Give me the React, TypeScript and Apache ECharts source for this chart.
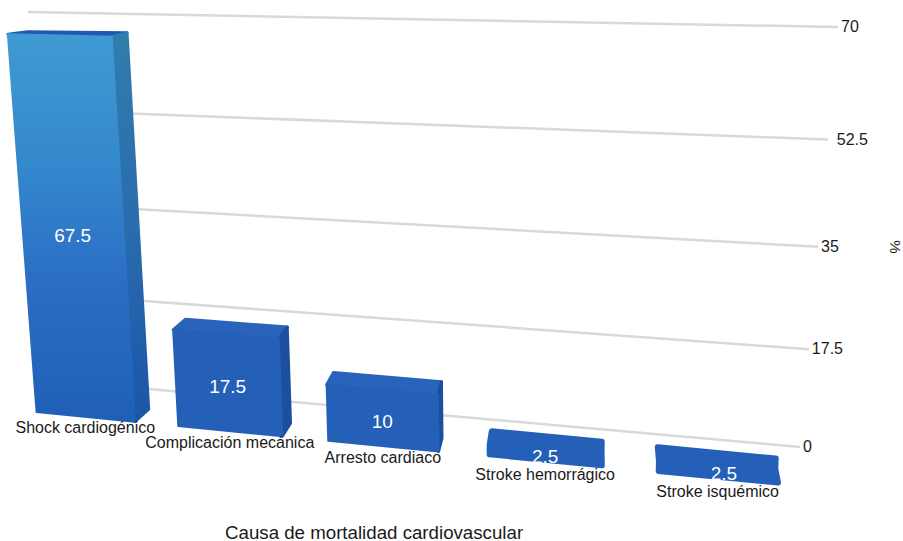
import React, { useEffect, useRef } from "react";
import * as echarts from "echarts";

const categories = ["Shock cardiogénico", "Complicación mecánica", "Arresto cardiaco", "Stroke hemorrágico", "Stroke isquémico"];
const values = [67.5, 17.5, 10, 2.5, 2.5];
const valueLabels = ["67.5", "17.5", "10", "2.5", "2.5"];
const yTicks = [0, 17.5, 35, 52.5, 70];
const yTickLabels = ["0", "17.5", "35", "52.5", "70"];
const xTitle = "Causa de mortalidad cardiovascular";
const yTitle = "%";

const W = 903;
const H = 541;
const FONT = '"Liberation Sans", Arial, sans-serif';

type P = [number, number];
function quad(p0: P, p1: P, p2: P, p3: P) {
  const dx1 = p1[0] - p2[0], dx2 = p3[0] - p2[0], sx = p0[0] - p1[0] + p2[0] - p3[0];
  const dy1 = p1[1] - p2[1], dy2 = p3[1] - p2[1], sy = p0[1] - p1[1] + p2[1] - p3[1];
  const den = dx1 * dy2 - dx2 * dy1;
  const g = (sx * dy2 - dx2 * sy) / den;
  const h = (dx1 * sy - sx * dy1) / den;
  const a = p1[0] - p0[0] + g * p1[0], b = p3[0] - p0[0] + h * p3[0], c = p0[0];
  const d = p1[1] - p0[1] + g * p1[1], e = p3[1] - p0[1] + h * p3[1], f = p0[1];
  return (q: number[]): P => {
    const s = q[0] / W, t = 1 - q[1] / H;
    const w = g * s + h * t + 1;
    return [(a * s + b * t + c) / w, (d * s + e * t + f) / w];
  };
}

// perspective planes: bottom-left, bottom-right, top-right, top-left
const wall = quad([58, 381], [800, 447], [838, 27], [28, 12]);
const front = quad([16, 410], [808, 488], [830, 36], [-15, 19]);
const back = quad([35, 398], [805, 474], [828, 24], [6, 17]);

const renderGrid = (params: any, api: any) => {
  const v = api.value(1);
  const a = wall(api.coord([0, v]));
  const b = wall(api.coord([5, v]));
  const gap = v === 52.5 ? 9 : 3;
  return {
    type: "group",
    children: [
      { type: "line", shape: { x1: a[0], y1: a[1], x2: b[0], y2: b[1] }, style: { stroke: "#d9d9d9", lineWidth: 2.5 } },
      {
        type: "text",
        style: { text: yTickLabels[params.dataIndex], x: b[0] + gap, y: b[1] - 0.5, fill: "#1a1a1a", font: `16px ${FONT}`, align: "left", verticalAlign: "middle" },
      },
    ],
  };
};

const renderBar = (params: any, api: any) => {
  const i = api.value(0);
  const v = api.value(1);
  const low = v < 5;
  const ins = low ? 0.015 : 0;
  const vIn = low ? 0.4 : 0;
  const uL = i + 0.15 + ins, uR = i + 0.85 - ins;
  const fBL = front(api.coord([uL, vIn])), fBR = front(api.coord([uR, vIn]));
  const fTL = front(api.coord([uL, v - vIn])), fTR = front(api.coord([uR, v - vIn]));
  const bBR = back(api.coord([uR, vIn]));
  const bTL = back(api.coord([uL, v - vIn])), bTR = back(api.coord([uR, v - vIn]));
  const tall = v > 30;
  const grad = (stops: string[]) => ({
    type: "linear", x: 0, y: 0, x2: 0, y2: 1,
    colorStops: stops.map((color, k) => ({ offset: k / (stops.length - 1), color })),
  });
  const frontFill = tall ? grad(["#3f9ad3", "#3488cd", "#2a6cc4", "#1f5fb8"]) : "#2460b8";
  const sideFill = tall ? grad(["#2f7dac", "#2a6cae", "#1c55a8"]) : "#1d4f9f";
  const topFill = tall ? "#2058b4" : "#2a63bb";
  const mk = (pts: P[], fill: any, lw: number) => ({
    type: "polygon",
    shape: { points: pts },
    style: { fill, stroke: fill, lineWidth: lw, lineJoin: "round" },
  });
  const faces = low
    ? [mk([bTL, bTR, bBR, fBR, fBL, fTL], "#2460b8", 6)]
    : [
        mk([fTL, fTR, bTR, bTL], topFill, 3),
        mk([fTR, fBR, bBR, bTR], sideFill, 3),
        mk([fTL, fTR, fBR, fBL], frontFill, 2),
      ];
  const mid = front(api.coord([i + 0.5, v / 2]));
  const base = front(api.coord([i + 0.5, 0]));
  const labelDx = params.dataIndex === 4 ? 6 : 0;
  const labelDy = low ? 2 : 4;
  const catDy = low ? 12.5 : 11;
  return {
    type: "group",
    children: [
      ...faces,
      {
        type: "text",
        style: { text: valueLabels[params.dataIndex], x: mid[0] + labelDx, y: mid[1] + labelDy, fill: "#ffffff", font: `19px ${FONT}`, align: "center", verticalAlign: "middle" },
      },
      {
        type: "text",
        style: { text: categories[params.dataIndex], x: base[0], y: base[1] + catDy, fill: "#1a1a1a", font: `16px ${FONT}`, align: "center", verticalAlign: "middle" },
      },
    ],
  };
};

export default function App() {
  const ref = useRef<HTMLDivElement>(null);
  useEffect(() => {
    const chart = echarts.init(ref.current!, undefined, { renderer: "svg" });
    chart.setOption({
      animation: false,
      backgroundColor: "#ffffff",
      grid: { left: 0, right: 0, top: 0, bottom: 0 },
      xAxis: { type: "value", min: 0, max: 5, show: false },
      yAxis: { type: "value", min: 0, max: 70, show: false },
      series: [
        { type: "custom", clip: false, z: 1, data: yTicks.map((t) => [0, t]), renderItem: renderGrid },
        { type: "custom", clip: false, z: 2, data: values.map((v, i) => [i, v]), renderItem: renderBar },
      ],
      graphic: [
        { type: "text", x: 225, y: 532, style: { text: xTitle, fill: "#1a1a1a", font: `18.7px ${FONT}`, textAlign: "left", textVerticalAlign: "middle" } },
        { type: "text", x: 895, y: 247, rotation: -Math.PI / 2, style: { text: yTitle, fill: "#1a1a1a", font: `15px ${FONT}`, textAlign: "center", textVerticalAlign: "middle" } },
      ],
    });
    return () => chart.dispose();
  }, []);
  return <div ref={ref} style={{ position: "absolute", left: 0, top: 0, width: W, height: H }} />;
}
